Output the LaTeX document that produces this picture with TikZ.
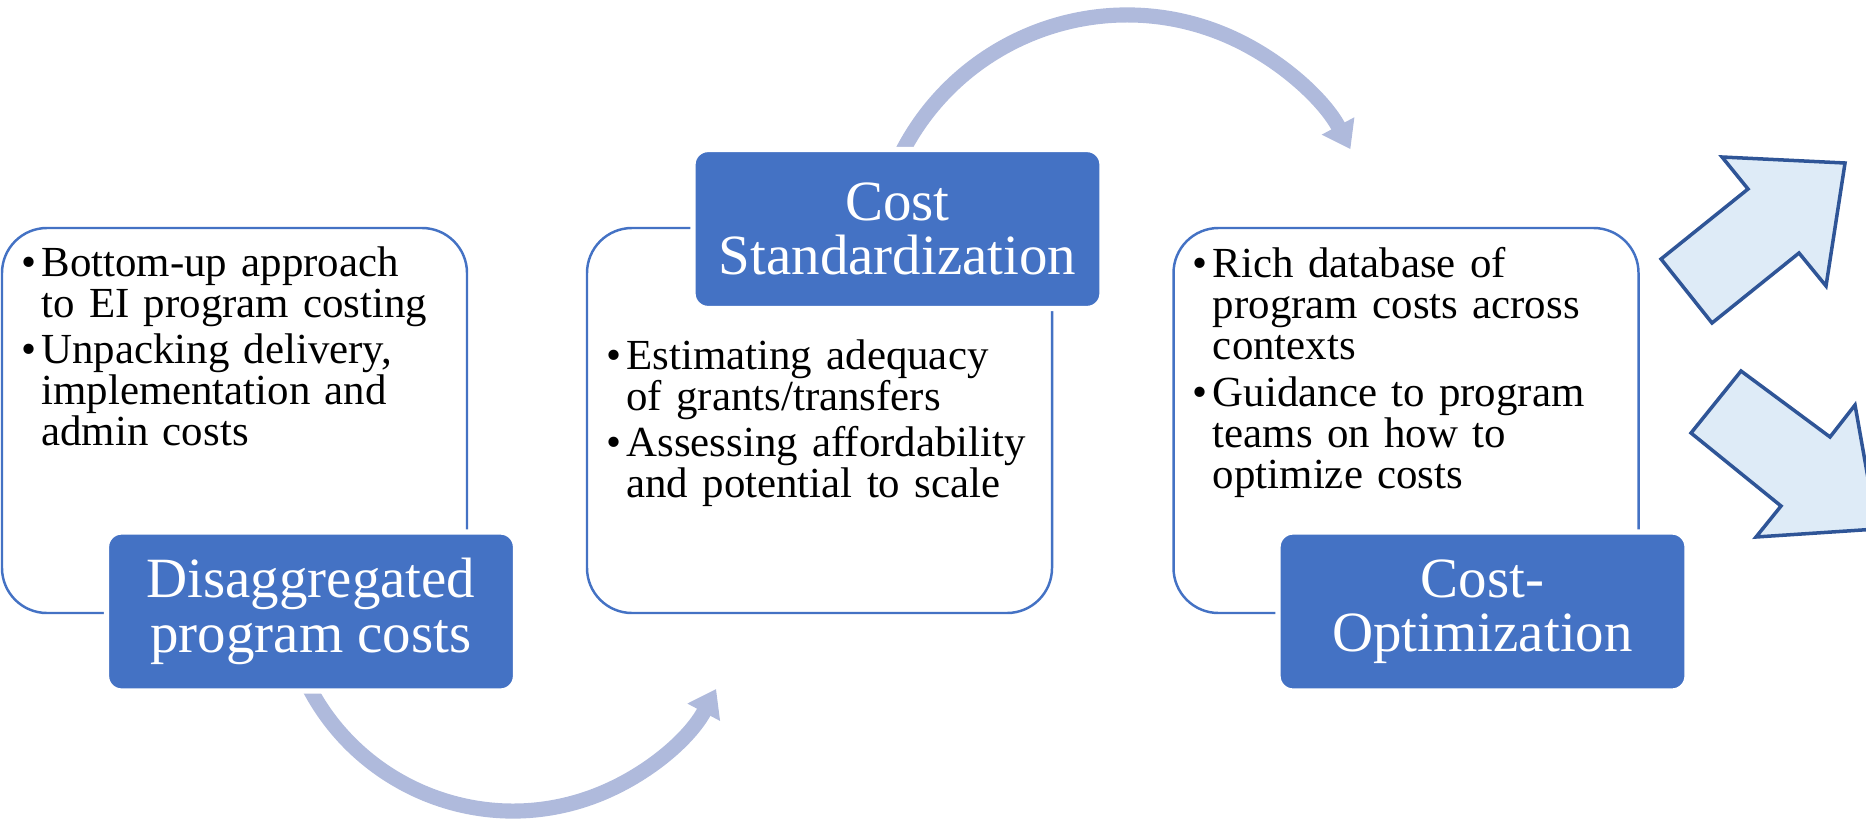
\documentclass[tikz,border=0pt]{standalone}
\usepackage{fontspec}
\setmainfont{Liberation Serif}
\definecolor{StageBlue}{HTML}{4472C4}
\definecolor{ArcBlue}{HTML}{AFBADC}
\definecolor{PaleBlue}{HTML}{DEEBF7}
\definecolor{DeepBlue}{HTML}{2F5597}
\usetikzlibrary{arrows.meta}
\setlength{\parindent}{0pt}

\newcommand{\bitem}[1]{\hangindent=0.2cm\hangafter=1\noindent\makebox[0.2cm][l]{\textbullet}#1\par}

\tikzset{
    panel/.style={draw=StageBlue, line width=0.7pt, fill=white, rounded corners=0.45cm, minimum width=4.65cm, minimum height=3.85cm},
    header/.style={fill=StageBlue, draw=white, line width=1.5pt, rounded corners=0.15cm, minimum width=4.09cm, minimum height=1.59cm, inner sep=0pt, text=white, align=center, font=\fontsize{16.2pt}{15.5pt}\selectfont},
    bullets/.style={anchor=north west, inner sep=0pt, text width=4.4cm, font=\fontsize{12.2pt}{11.66pt}\selectfont\raggedright\setlength{\parskip}{1.6pt}},
    cycle arc/.style={draw=ArcBlue, line width=4.3pt, -{Triangle[length=7.5pt,width=10pt]}},
    fork arrow/.style={draw=DeepBlue, fill=PaleBlue, line width=1pt, line join=miter}
}

\begin{document}
\begin{tikzpicture}
    \useasboundingbox (0,0) rectangle (18.66,8.19);
    \clip (0,0) rectangle (18.66,8.19);

    % Arcs between the stages, tails hidden under the headers
    \coordinate (low centre) at (5.13,2.38);
    \coordinate (high centre) at (11.27,5.51);
    \draw[cycle arc] (low centre) ++(200:2.30) arc (200:332:2.30);
    \draw[cycle arc] (high centre) ++(155:2.53) arc (155:28:2.53);

    % Stage panels
    \node[panel] (costs) at (2.345,3.985) {};
    \node[panel] (standard) at (8.195,3.985) {};
    \node[panel] (optim) at (14.06,3.985) {};

    \node[bullets] (costs text) at ([shift={(0.2,-0.19)}]costs.north west)
        {\bitem{Bottom-up approach\newline to EI program costing}\bitem{Unpacking delivery,\newline implementation and\newline admin costs}};
    \node[bullets] (standard text) at ([shift={(0.2,-1.12)}]standard.north west)
        {\bitem{Estimating adequacy\newline of grants/transfers}\bitem{Assessing affordability\newline and potential to scale}};
    \node[bullets] (optim text) at ([shift={(0.2,-0.2)}]optim.north west)
        {\bitem{Rich database of\newline program costs across\newline contexts}\bitem{Guidance to program\newline teams on how to\newline optimize costs}};

    % Stage headers
    \node[header] (costs head) at (3.11,2.075) {Disaggregated\\program costs};
    \node[header] (standard head) at (8.975,5.90) {Cost\\Standardization};
    \node[header] (optim head) at (14.825,2.075) {Cost-\\Optimization};

    % Outcome arrows
    \draw[fork arrow] (16.61,5.60) -- (17.48,6.30) -- (17.22,6.62) -- (18.45,6.56) -- (18.26,5.33) -- (17.99,5.66) -- (17.12,4.96) -- cycle;
    \draw[fork arrow] (16.91,3.86) -- (17.41,4.48) -- (18.30,3.82) -- (18.55,4.14) -- (18.77,2.90) -- (17.56,2.82) -- (17.81,3.13) -- cycle;
\end{tikzpicture}
\end{document}
